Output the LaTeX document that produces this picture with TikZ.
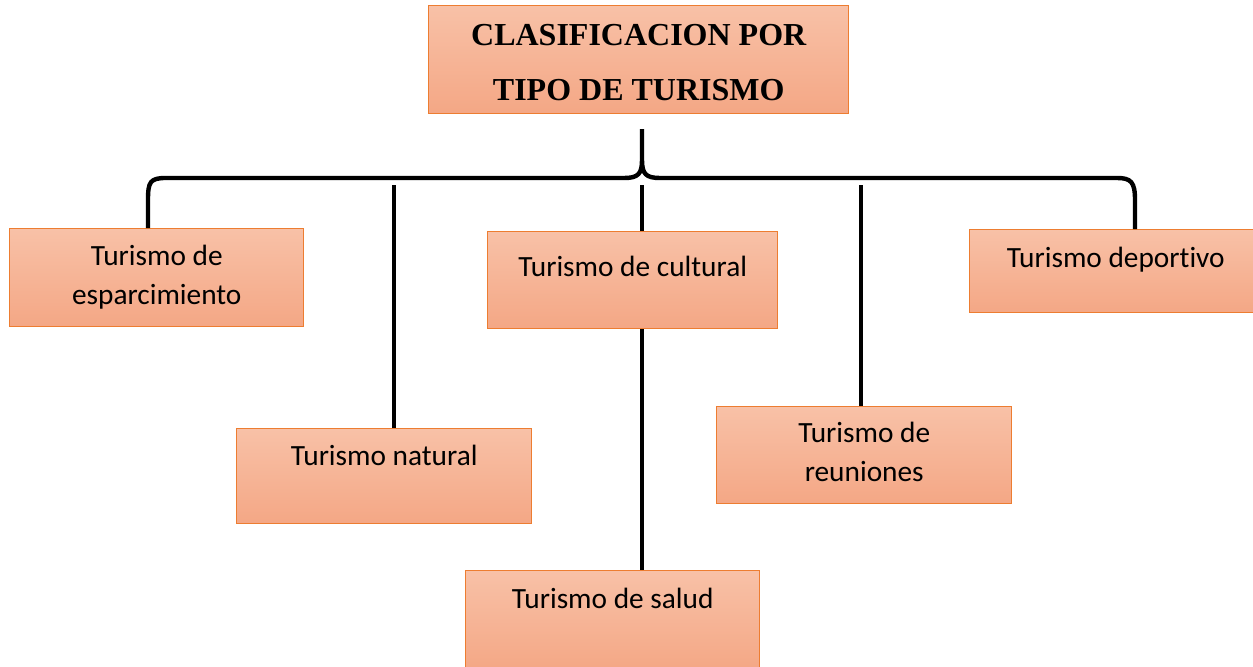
\documentclass[tikz,border=0pt]{standalone}
\usepackage{fontspec}
\setmainfont{Carlito}[Ligatures=NoCommon]
\newfontfamily\titlefont{Liberation Serif}
\definecolor{boxtop}{HTML}{F8C1A7}
\definecolor{boxbot}{HTML}{F4A785}
\definecolor{boxline}{HTML}{ED7D31}
\tikzset{
  tbox/.style={draw=boxline,line width=1.1pt,top color=boxtop,bottom color=boxbot,
    inner sep=0pt,align=center,anchor=north west,font=\fontsize{22}{29.25}\selectfont},
  link/.style={line width=3.3pt}
}
\begin{document}
\begin{tikzpicture}[x=0.75pt,y=-0.75pt]
		\useasboundingbox (0,0) rectangle (1253,667);
		% cajas
		\node[tbox,font=\titlefont\bfseries\fontsize{24}{41.25}\selectfont,minimum width=315pt,text height=71.25pt,text depth=9.75pt] (title) at (428,5) {CLASIFICACION POR\\TIPO DE TURISMO};
		\node[tbox,minimum width=220.5pt,text height=57pt,text depth=16.5pt] (esparc) at (9,228) {Turismo de\\esparcimiento};
		\node[tbox,minimum width=221.25pt,text height=27.75pt,text depth=43.5pt] (natural) at (236,428) {Turismo natural};
		\node[tbox,minimum width=217.5pt,text height=33.75pt,text depth=39pt] (cultural) at (487,231) {Turismo de cultural};
		\node[tbox,minimum width=220.5pt,text height=28.5pt,text depth=46.5pt] (salud) at (465,570) {Turismo de salud};
		\node[tbox,minimum width=221.25pt,text height=56.25pt,text depth=16.5pt] (reuniones) at (716,406) {Turismo de\\reuniones};
		\node[tbox,minimum width=219pt,text height=28.5pt,text depth=33.75pt] (deport) at (969,229) {Turismo deportivo};
		% llave
		\coordinate (bl) at (148,228);
		\coordinate (br) at (1135,229);
		\coordinate (cusp) at (642,129);
		\draw[link,line join=round] (bl) -- (148,200) .. controls (148,182) and (150,178) .. (166,178) -- (624,178)
		.. controls (638,178) and (642,174) .. (642,160) -- (cusp) (642,160) .. controls (642,174) and (646,178) .. (660,178)
		-- (1117,178) .. controls (1131,178) and (1135,182) .. (1135,200) -- (br);
		% lineas
		\coordinate (natstub) at (394,185);
		\coordinate (culstub) at (642,185);
		\coordinate (reustub) at (861,185);
		\draw[link] (natstub) -- (natstub |- natural.north);
		\draw[link] (culstub) -- (culstub |- cultural.north);
		\draw[link] (culstub |- cultural.south) -- (culstub |- salud.north);
		\draw[link] (reustub) -- (reustub |- reuniones.north);
\end{tikzpicture}
\end{document}
